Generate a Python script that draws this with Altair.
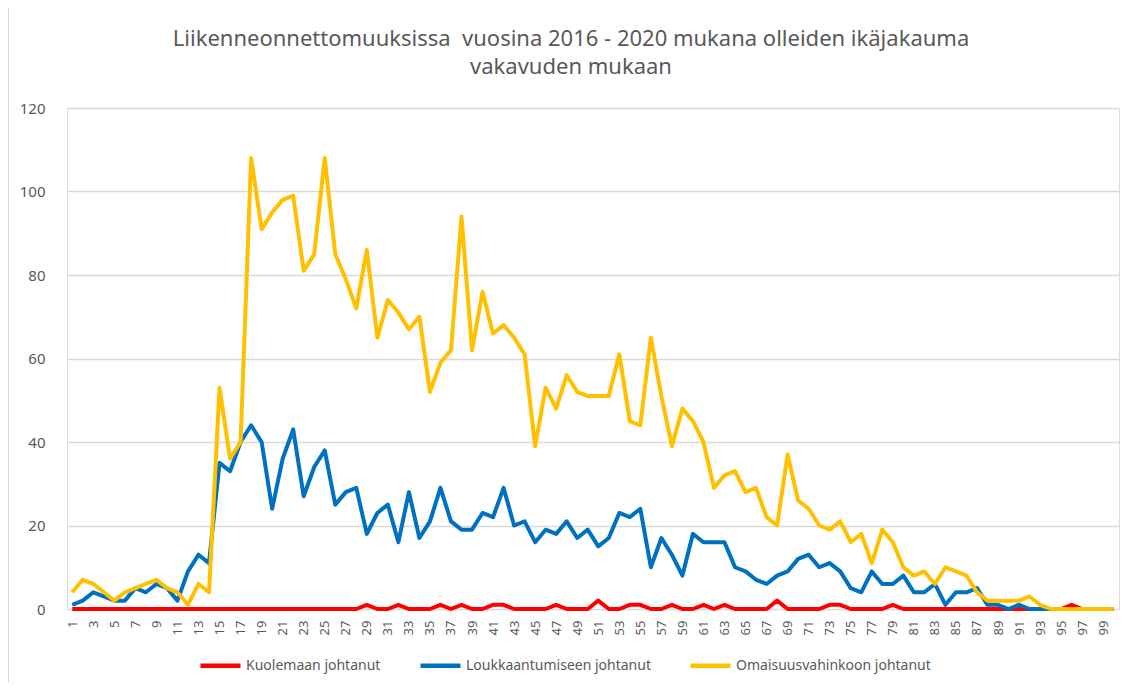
import altair as alt
import pandas as pd

ages = list(range(1, 101))

series_names = ["Kuolemaan johtanut", "Loukkaantumiseen johtanut", "Omaisuusvahinkoon johtanut"]
series_colors = ["#FF0000", "#0070C0", "#FFC000"]

title_lines = ["Liikenneonnettomuuksissa\u00a0 vuosina 2016 - 2020 mukana olleiden ikäjakauma",
               "vakavuden mukaan"]

kuolemaan = [
    0, 0, 0, 0, 0, 0, 0, 0, 0, 0,
    0, 0, 0, 0, 0, 0, 0, 0, 0, 0,
    0, 0, 0, 0, 0, 0, 0, 0, 1, 0,
    0, 1, 0, 0, 0, 1, 0, 1, 0, 0,
    1, 1, 0, 0, 0, 0, 1, 0, 0, 0,
    2, 0, 0, 1, 1, 0, 0, 1, 0, 0,
    1, 0, 1, 0, 0, 0, 0, 2, 0, 0,
    0, 0, 1, 1, 0, 0, 0, 0, 1, 0,
    0, 0, 0, 0, 0, 0, 0, 0, 0, 0,
    0, 0, 0, 0, 0, 1, 0, 0, 0, 0,
]

loukkaantumiseen = [
    1, 2, 4, 3, 2, 2, 5, 4, 6, 5,
    2, 9, 13, 11, 35, 33, 40, 44, 40, 24,
    36, 43, 27, 34, 38, 25, 28, 29, 18, 23,
    25, 16, 28, 17, 21, 29, 21, 19, 19, 23,
    22, 29, 20, 21, 16, 19, 18, 21, 17, 19,
    15, 17, 23, 22, 24, 10, 17, 13, 8, 18,
    16, 16, 16, 10, 9, 7, 6, 8, 9, 12,
    13, 10, 11, 9, 5, 4, 9, 6, 6, 8,
    4, 4, 6, 1, 4, 4, 5, 1, 1, 0,
    1, 0, 0, 0, 0, 0, 0, 0, 0, 0,
]

omaisuusvahinkoon = [
    4, 7, 6, 4, 2, 4, 5, 6, 7, 5,
    4, 1, 6, 4, 53, 36, 40, 108, 91, 95,
    98, 99, 81, 85, 108, 85, 79, 72, 86, 65,
    74, 71, 67, 70, 52, 59, 62, 94, 62, 76,
    66, 68, 65, 61, 39, 53, 48, 56, 52, 51,
    51, 51, 61, 45, 44, 65, 51, 39, 48, 45,
    40, 29, 32, 33, 28, 29, 22, 20, 37, 26,
    24, 20, 19, 21, 16, 18, 11, 19, 16, 10,
    8, 9, 6, 10, 9, 8, 4, 2, 2, 2,
    2, 3, 1, 0, 0, 0, 0, 0, 0, 0,
]

x_tick_values = list(range(1, 100, 2))
y_tick_values = [0, 20, 40, 60, 80, 100, 120]

rows = []
for name, vals in zip(series_names, [kuolemaan, loukkaantumiseen, omaisuusvahinkoon]):
    for a, v in zip(ages, vals):
        rows.append({"ika": a, "arvo": v, "sarja": name})
df = pd.DataFrame(rows)

FONT = "Noto Sans"
GRAY = "#595959"

lines = alt.Chart(df).mark_line(strokeWidth=4, strokeJoin="round").encode(
    x=alt.X("ika:Q",
            scale=alt.Scale(domain=[0.5, 100.5], nice=False, zero=False),
            axis=alt.Axis(values=x_tick_values, labelAngle=-90, title=None,
                          grid=False, ticks=False, domain=False,
                          labelFontSize=13, labelColor=GRAY, labelFont=FONT,
                          labelPadding=11, labelFlush=False, labelOverlap=False)),
    y=alt.Y("arvo:Q",
            scale=alt.Scale(domain=[0, 120], nice=False),
            axis=alt.Axis(values=y_tick_values, title=None, grid=True,
                          gridColor="#d9d9d9", gridWidth=1.3, ticks=False, domain=False,
                          labelFontSize=15, labelColor=GRAY, labelFont=FONT,
                          labelPadding=22)),
    color=alt.Color("sarja:N",
                    scale=alt.Scale(domain=series_names, range=series_colors),
                    legend=alt.Legend(title=None, orient="none", direction="horizontal",
                                      columns=3, legendX=131, legendY=535,
                                      symbolType="stroke", symbolSize=1600,
                                      symbolStrokeWidth=4.5, labelFontSize=14,
                                      labelFont=FONT, labelColor=GRAY, labelLimit=400,
                                      labelOffset=3, columnPadding=30)),
    detail="sarja:N",
)

border = alt.Chart(pd.DataFrame({"k": [0]})).mark_rule(color="#d9d9d9", strokeWidth=1).encode(
    x=alt.value(-58.5), y=alt.value(-100), y2=alt.value(574)
)

title1 = alt.Chart(pd.DataFrame({"t": [title_lines[0]]})).mark_text(
    font=FONT, fontSize=22, color=GRAY, align="center", baseline="alphabetic"
).encode(text="t:N", x=alt.value(504), y=alt.value(-62))

title2 = alt.Chart(pd.DataFrame({"t": [title_lines[1]]})).mark_text(
    font=FONT, fontSize=22, color=GRAY, align="center", baseline="alphabetic"
).encode(text="t:N", x=alt.value(504), y=alt.value(-34))

chart = alt.layer(border, lines, title1, title2).properties(
    width=1052,
    height=501,
    autosize=alt.AutoSizeParams(type="none"),
    padding={"left": 59, "top": 100, "right": 11, "bottom": 73},
).configure_view(stroke=None).configure(background="white")

chart.save("out.html", embed_options={"renderer": "svg", "actions": False})
